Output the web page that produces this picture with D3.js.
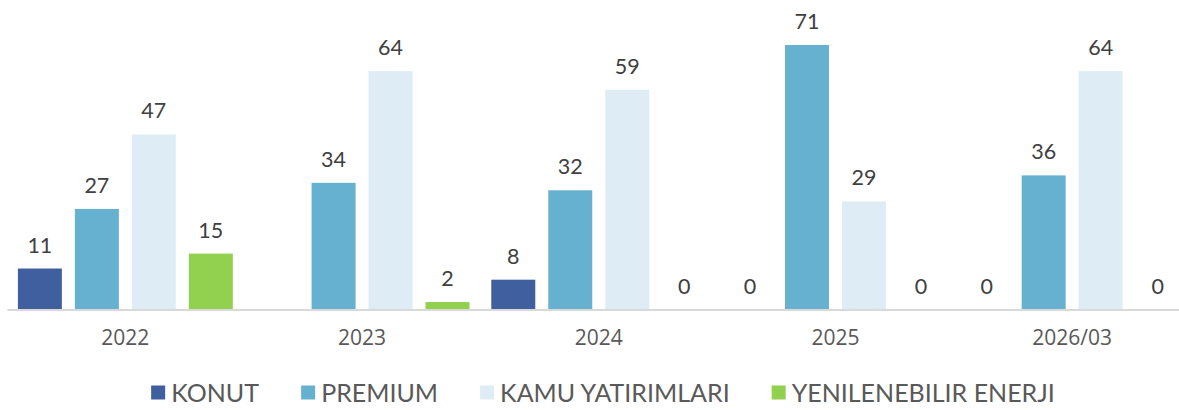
<!DOCTYPE html>
<html lang="tr">
  <head>
    <meta charset="UTF-8" />
    <script src="https://cdn.jsdelivr.net/npm/d3@7"></script>
    <style>
      body { margin: 0; background: #fff; }
      svg { display: block; }
      .val { font-family: Lato, sans-serif; font-size: 21.5px; fill: #404040; }
      .tick text { font-family: "Open Sans", sans-serif; font-size: 21px; fill: #595959; }
      .legend text { font-family: Lato, sans-serif; font-size: 25px; fill: #595959; }
    </style>
  </head>
  <body>
    <svg id="chart" width="1179" height="410"></svg>
    <script>
      // data
      var years = ["2022", "2023", "2024", "2025", "2026/03"];
      var seriesNames = ["KONUT", "PREMIUM", "KAMU YATIRIMLARI", "YENILENEBILIR ENERJI"];
      var konut = [11, null, 8, 0, 0];
      var premium = [27, 34, 32, 71, 36];
      var kamu = [47, 64, 59, 29, 64];
      var yenilenebilir = [15, 2, 0, 0, 0];
      var colors = ["#3f5f9e", "#65b1cf", "#deedf5", "#92d050"];

      var seriesVals = [konut, premium, kamu, yenilenebilir];
      var rows = [];
      years.forEach(function (y, i) {
        seriesVals.forEach(function (arr, s) {
          rows.push({ year: y, s: s, value: arr[i] });
        });
      });

      var svg = d3.select("#chart");
      var baseY = 309.5;
      var x0 = d3.scaleBand().domain(years).range([7, 1190.5]).paddingInner(0.092).paddingOuter(0.046);
      var x1 = d3.scaleBand().domain(d3.range(4)).range([0, x0.bandwidth()]).paddingInner(0.228);
      var y = d3.scaleLinear().domain([0, 71]).range([baseY, 45]);

      var bars = rows.filter(function (d) { return d.value !== null; });

      svg.append("g")
        .selectAll("rect")
        .data(bars)
        .join("rect")
        .attr("x", function (d) { return x0(d.year) + x1(d.s); })
        .attr("y", function (d) { return y(d.value); })
        .attr("width", x1.bandwidth())
        .attr("height", function (d) { return baseY - y(d.value); })
        .attr("fill", function (d) { return colors[d.s]; });

      svg.append("g")
        .selectAll("text")
        .data(bars)
        .join("text")
        .attr("class", "val")
        .attr("text-anchor", "middle")
        .attr("x", function (d) { return x0(d.year) + x1(d.s) + x1.bandwidth() / 2; })
        .attr("y", function (d) { return y(d.value) - 16; })
        .text(function (d) { return d.value; });

      // x axis
      var axis = svg.append("g")
        .attr("transform", "translate(0," + baseY + ")")
        .call(d3.axisBottom(x0).tickSize(0).tickPadding(21));
      axis.select(".domain").attr("stroke", "#d9d9d9").attr("stroke-width", 2);

      // legend
      var legend = svg.append("g").attr("class", "legend");
      var items = legend.selectAll("g").data(seriesNames).join("g");
      items.append("rect")
        .attr("width", 14).attr("height", 14)
        .attr("y", -14.5)
        .attr("fill", function (d, i) { return colors[i]; });
      items.append("text")
        .attr("x", 20)
        .attr("y", 1.5)
        .text(function (d) { return d; });
      var pos = 0;
      items.each(function () {
        var w = this.getBBox().width;
        d3.select(this).attr("transform", "translate(" + pos + ",0)");
        pos += w + 42;
      });
      pos -= 42;
      legend.attr("transform", "translate(" + (603 - pos / 2) + ",400)");
    </script>
  </body>
</html>
